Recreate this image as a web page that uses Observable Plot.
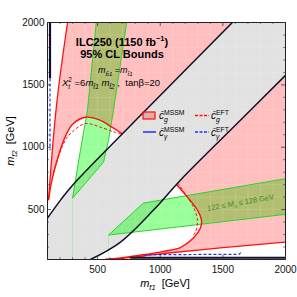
<!DOCTYPE html>
<html><head><meta charset="utf-8">
<script src="https://cdn.jsdelivr.net/npm/d3@7"></script>
<script src="https://cdn.jsdelivr.net/npm/@observablehq/plot@0.6"></script>
<style>html,body{margin:0;padding:0;background:#fff;}</style>
</head><body><div id="chart"></div>
<script>
const FONT = "Liberation Sans, Arial, Helvetica, sans-serif";

// ---- axis ticks (GeV) ----
const xTicks = [500, 1000, 1500, 2000];
const yTicks = [500, 1000, 1500, 2000];
const minorTicks = [100,200,300,400,600,700,800,900,1100,1200,1300,1400,1600,1700,1800,1900];
const gridValues = [200,300,400,500,600,700,800,900,1000,1100,1200,1300,1400,1500,1600,1700,1800,1900];

// ---- curves, as [m_t1, m_t2] in GeV ----
const boundaryUpper = [[100,432],[204,576],[300,696],[962,1376],[1576,2000]];
const boundaryLower = [[443,100],[683,240],[946,496],[1161,736],[1640,1216],[2000,1576]];
const redEdgeLeft = [[260,2000],[172,1336],[108,576]];
const arcUpperLeft = [[108,576],[132,720],[172,880],[236,1072],[300,1184],[403,1240],[523,1216],[603,1168],[667,1128],[699,1104]];
const arcLowerRight = [[1130,701],[1217,600],[1297,496],[1329,416],[1321,352],[1265,272],[1161,196],[1026,165],[866,138],[700,115],[560,100]];
const redEdgeBottom = [[2000,240],[1500,195],[1026,148],[866,128],[700,110],[560,100]];
const eftUpperLeft = [[150,800],[200,960],[250,1070],[300,1125],[403,1190],[547,1152],[640,1120],[695,1104]];
const eftLowerRight = [[1140,712],[1265,520],[1297,416],[1281,320],[1252,284]];
const gammaEftLeft = [[120,1552],[120,976]];
const gammaEftBottom = [[866,138],[1630,142],[1645,158]];
const darkEdgeLeft = [[120,2000],[120,1552]];
const darkEdgeBottom = [[760,114],[2000,114]];
const higgsUL_left = [[489,2000],[419,1296],[363,976],[300,592]];
const higgsUL_right = [[732,2000],[627,1296],[587,1056],[547,880]];
const higgsLR_lower = [[587,296],[2000,462]];
const higgsLR_upper = [[866,552],[2000,748]];
const frameCorners = {bottomLeft: [100,100], topRight: [2000,2000]};

// ---- derived polygons ----
const dedupe = pts => pts.filter((p, i) => i === 0 || p[0] !== pts[i-1][0] || p[1] !== pts[i-1][1]);
const greyBand = dedupe([...boundaryUpper, frameCorners.topRight, ...boundaryLower.slice().reverse(), frameCorners.bottomLeft]);
const pinkUL = dedupe([...redEdgeLeft, ...arcUpperLeft, ...boundaryUpper.filter(p => p[0] > arcUpperLeft[arcUpperLeft.length-1][0])]);
const pinkLR = dedupe([...arcLowerRight, ...redEdgeBottom.slice().reverse(), ...boundaryLower.filter(p => p[0] > arcLowerRight[0][0]).reverse()]);
const higgsUL = [...higgsUL_left, ...higgsUL_right.slice().reverse()];
const higgsLR = [...higgsLR_lower, ...higgsLR_upper.slice().reverse()];
const higgsUL_closed = [...higgsUL, higgsUL[0]];
const higgsLR_closed = [...higgsLR, higgsLR[0]];
const higgsGuides = [
  [[higgsUL_left[higgsUL_left.length-1][0], 100], higgsUL_left[higgsUL_left.length-1]],
  [[higgsLR_lower[0][0], 100], higgsLR_lower[0]]
];

const X = d => d[0], Y = d => d[1];
const poly = (data, fill) => Plot.line(data, {x: X, y: Y, fill, stroke: "none", curve: "linear", clip: true});
const path = (data, o) => Plot.line(data, {x: X, y: Y, curve: "catmull-rom", clip: true, strokeLinecap: "butt", ...o});

const RED = "#ff1010", BLUE = "#2030ff", DARK = "#10102a", GREEN = "#30d030";
const tickMajor = 32, tickMinor = 16;

const svgNode = Plot.plot({
  width: 297, height: 297,
  marginLeft: 47, marginRight: 12, marginTop: 22, marginBottom: 38,
  x: {domain: [100, 2000]},
  y: {domain: [100, 2000]},
  style: {fontFamily: FONT, fontSize: "10px", background: "white", color: "black", overflow: "visible"},
  marks: [
    poly(greyBand, "#e5e5e5"),
    poly(higgsUL, "rgba(0,255,0,0.4)"),
    poly(higgsLR, "rgba(0,255,0,0.4)"),
    poly(pinkUL, "rgba(255,0,0,0.25)"),
    poly(pinkLR, "rgba(255,0,0,0.25)"),
    Plot.ruleX(gridValues, {x: d => d, stroke: "white", strokeOpacity: 0.22, strokeWidth: 0.6}),
    Plot.ruleY(gridValues, {y: d => d, stroke: "white", strokeOpacity: 0.22, strokeWidth: 0.6}),
    ...higgsGuides.map(g => path(g, {stroke: GREEN, strokeOpacity: 0.35, strokeWidth: 0.6, curve: "linear"})),
    path(higgsUL_closed, {stroke: GREEN, strokeWidth: 1, curve: "linear"}),
    path(higgsLR_closed, {stroke: GREEN, strokeWidth: 1, curve: "linear"}),
    path(redEdgeLeft, {stroke: RED, strokeWidth: 1.3}),
    path(arcUpperLeft, {stroke: RED, strokeWidth: 1.4}),
    path(arcLowerRight, {stroke: RED, strokeWidth: 1.4}),
    path(redEdgeBottom, {stroke: RED, strokeWidth: 1.3}),
    path(eftUpperLeft, {stroke: RED, strokeWidth: 1, strokeDasharray: "3,2"}),
    path(eftLowerRight, {stroke: RED, strokeWidth: 1, strokeDasharray: "3,2"}),
    path(boundaryUpper, {stroke: DARK, strokeWidth: 1.5}),
    path(boundaryLower, {stroke: DARK, strokeWidth: 1.5}),
    path(darkEdgeLeft, {stroke: DARK, strokeWidth: 2.2, curve: "linear"}),
    path(darkEdgeBottom, {stroke: DARK, strokeWidth: 2.2, curve: "linear"}),
    path(gammaEftLeft, {stroke: BLUE, strokeWidth: 1.2, strokeDasharray: "3,2", curve: "linear"}),
    path(gammaEftBottom, {stroke: BLUE, strokeWidth: 1.2, strokeDasharray: "3,2", curve: "linear"}),
    Plot.frame({stroke: "#222", strokeWidth: 1}),
    Plot.ruleX(xTicks, {x: d => d, y1: 100, y2: 100 + tickMajor, stroke: "#333", strokeWidth: 0.8}),
    Plot.ruleX(xTicks, {x: d => d, y1: 2000, y2: 2000 - tickMajor, stroke: "#333", strokeWidth: 0.8}),
    Plot.ruleX(minorTicks, {x: d => d, y1: 100, y2: 100 + tickMinor, stroke: "#333", strokeWidth: 0.6}),
    Plot.ruleX(minorTicks, {x: d => d, y1: 2000, y2: 2000 - tickMinor, stroke: "#333", strokeWidth: 0.6}),
    Plot.ruleY(yTicks, {y: d => d, x1: 100, x2: 100 + tickMajor, stroke: "#333", strokeWidth: 0.8}),
    Plot.ruleY(yTicks, {y: d => d, x1: 2000, x2: 2000 - tickMajor, stroke: "#333", strokeWidth: 0.8}),
    Plot.ruleY(minorTicks, {y: d => d, x1: 100, x2: 100 + tickMinor, stroke: "#333", strokeWidth: 0.6}),
    Plot.ruleY(minorTicks, {y: d => d, x1: 2000, x2: 2000 - tickMinor, stroke: "#333", strokeWidth: 0.6}),
    Plot.axisX(xTicks, {anchor: "bottom", tickSize: 0, tickPadding: 6, tickFormat: d => String(d), label: null, fill: "#111"}),
    Plot.axisY(yTicks, {anchor: "left", tickSize: 0, tickPadding: 3, tickFormat: d => String(d), label: null, fill: "#111"})
  ]
});
document.getElementById("chart").appendChild(svgNode);
const svg = d3.select(svgNode);

svg.insert("defs", ":first-child").html(
  '<pattern id="hatch" patternUnits="userSpaceOnUse" width="4" height="4">' +
  '<rect width="4" height="4" fill="#e5e5e5"/>' +
  '<path d="M-1,1 l2,-2 M0,4 l4,-4 M3,5 l2,-2" stroke="#d2d2d2" stroke-width="0.6"/></pattern>');
svg.selectAll('[fill="#e5e5e5"]').filter(function(){ return this.tagName !== "rect"; }).attr("fill", "url(#hatch)");

function rich(parent, spec, o) {
  const size = o.size || 10;
  const t = parent.append("text")
    .attr("x", o.x).attr("y", o.y)
    .attr("font-size", size)
    .attr("font-weight", o.weight || "normal")
    .attr("text-anchor", o.anchor || "start")
    .attr("fill", o.fill || "black")
    .attr("font-family", FONT)
    .style("white-space", "pre");
  if (o.rotate) t.attr("transform", `rotate(${o.rotate},${o.x},${o.y})`);
  const re = /([_^~])\{([^}]*)\}|([^_^~]+)/g;
  let m, shift = 0, prev = null, prevScript = false;
  while ((m = re.exec(spec))) {
    const ts = t.append("tspan");
    if (m[3] !== undefined) {
      ts.attr("dy", -shift).text(m[3]); shift = 0; prevScript = false;
    } else if (m[1] === "~") {
      ts.attr("dy", -shift).attr("font-style", "italic").text(m[2]); shift = 0; prevScript = false;
    } else {
      const s = m[1] === "_" ? size * 0.3 : -size * 0.45;
      ts.attr("dy", s - shift).attr("font-size", size * 0.68).text(m[2]);
      if (m[1] === "_") ts.attr("font-style", "italic");
      if (prevScript && prev) ts.attr("dx", -prev.node().getComputedTextLength());
      shift = s; prevScript = true;
    }
    prev = ts;
  }
  return t;
}

const tt = "t\u0303", bt = "b\u0303", cbar = "c\u0304";
const ann = svg.append("g");
rich(ann, "ILC250 (1150 fb^{\u22121})", {x: 122, y: 46, size: 11, weight: "bold", anchor: "middle"});
rich(ann, "95% CL Bounds", {x: 122, y: 58, size: 11, weight: "bold", anchor: "middle"});
rich(ann, `~{m}_{${bt}1} =~{m}_{${tt}1}`, {x: 98, y: 73, size: 9});
rich(ann, `~{X}_{t}^{2} =6~{m}_{${tt}1} ~{m}_{${tt}2} ,  tan\u03b2=20`, {x: 62, y: 86, size: 9.5});
rich(ann, "122 \u2264 ~{M}_{h} \u2264 128 GeV", {x: 241, y: 205, size: 7.5, anchor: "middle", fill: "#3c8a26", rotate: -10});

rich(ann, `~{m}_{${tt}1}  [GeV]`, {x: 165, y: 287, size: 11, anchor: "middle"});
rich(ann, `~{m}_{${tt}2}  [GeV]`, {x: 14, y: 141, size: 11, anchor: "middle", rotate: -90});

const legendModels = ["MSSM", "EFT"];
const legendCouplings = ["g", "\u03b3"];
const lg = svg.append("g");
lg.append("rect").attr("x", 143).attr("y", 112).attr("width", 12).attr("height", 7)
  .attr("fill", "rgba(255,0,0,0.25)").attr("stroke", RED).attr("stroke-width", 1.2);
rich(lg, `~{${cbar}}_{${legendCouplings[0]}}^{${legendModels[0]}}`, {x: 159, y: 119, size: 10});
lg.append("line").attr("x1", 195).attr("x2", 209).attr("y1", 115.5).attr("y2", 115.5)
  .attr("stroke", RED).attr("stroke-width", 1.4).attr("stroke-dasharray", "3,1.5");
rich(lg, `~{${cbar}}_{${legendCouplings[0]}}^{${legendModels[1]}}`, {x: 211, y: 119, size: 10});
lg.append("line").attr("x1", 143).attr("x2", 156).attr("y1", 132).attr("y2", 132)
  .attr("stroke", BLUE).attr("stroke-width", 1.5);
rich(lg, `~{${cbar}}_{${legendCouplings[1]}}^{${legendModels[0]}}`, {x: 159, y: 136, size: 10});
lg.append("line").attr("x1", 195).attr("x2", 209).attr("y1", 132).attr("y2", 132)
  .attr("stroke", BLUE).attr("stroke-width", 1.4).attr("stroke-dasharray", "3,1.5");
rich(lg, `~{${cbar}}_{${legendCouplings[1]}}^{${legendModels[1]}}`, {x: 211, y: 136, size: 10});
</script>
</body></html>
